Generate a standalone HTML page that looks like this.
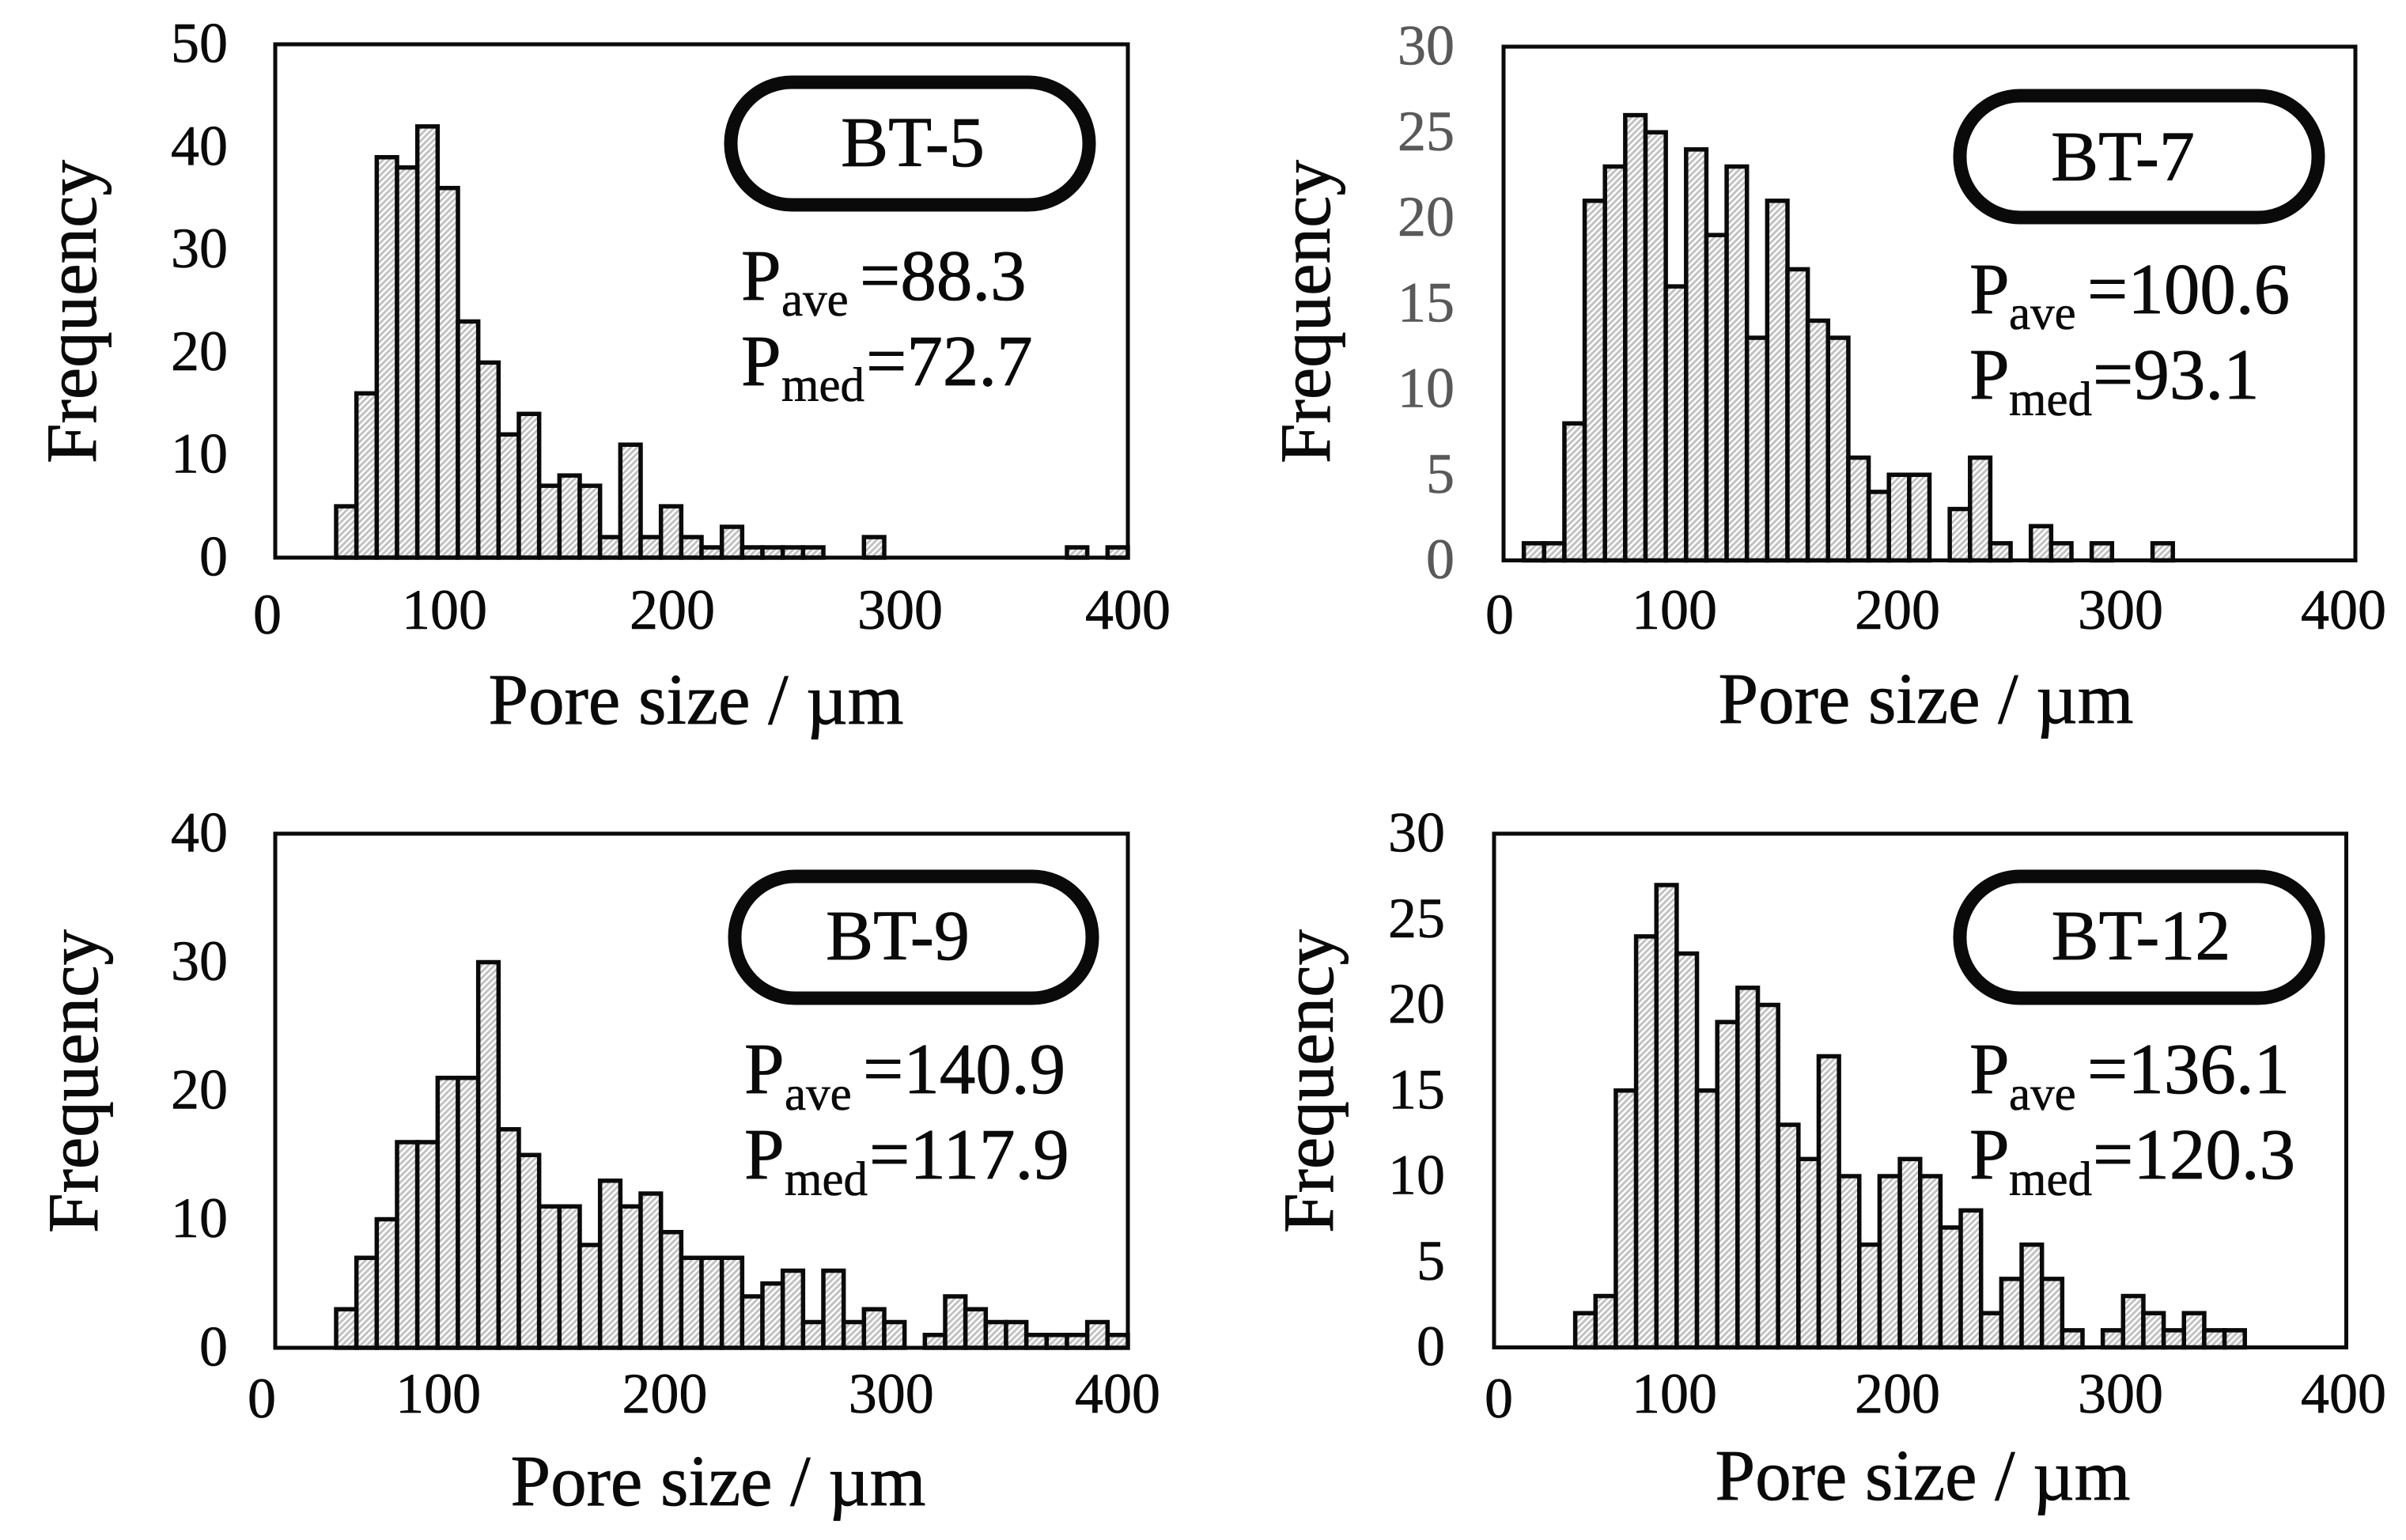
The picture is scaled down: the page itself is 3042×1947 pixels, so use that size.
<!DOCTYPE html>
<html lang="en">
<head>
<meta charset="utf-8">
<title>Pore size distributions</title>
<style>
html,body{margin:0;padding:0;background:#fff;width:3042px;height:1947px;overflow:hidden}
svg{display:block}
text{font-family:"Liberation Serif",serif;fill:#0a0a0a}
.title{font-size:91px;stroke:#0a0a0a;stroke-width:.8px}
.tick{font-size:72px;stroke:currentColor;stroke-width:.6px}
.bt{font-size:90px;text-anchor:middle;stroke:#0a0a0a;stroke-width:.8px}
.stat{font-size:91px;stroke:#0a0a0a;stroke-width:.8px}
.sub{font-size:61px;stroke-width:.6px}
.pill{fill:#fff;stroke:#0a0a0a;stroke-width:17}
.frame{fill:none;stroke:#0a0a0a;stroke-width:5}
.bar{fill:url(#hatch);stroke:#0a0a0a;stroke-width:5.5}
</style>
</head>
<body>
<svg id="chart" xmlns="http://www.w3.org/2000/svg" width="3042" height="1947" viewBox="0 0 3042 1947">
  <defs>
    <pattern id="hatch" width="5.5" height="5.5" patternUnits="userSpaceOnUse" patternTransform="rotate(45)">
      <rect width="5.5" height="5.5" fill="#fff"/>
      <rect width="3" height="5.5" fill="#c2c2c2"/>
    </pattern>
  </defs>
  <rect width="3042" height="1947" fill="#fff"/>

  <g id="panel-bt5">
    <g class="marks"></g>
    <text class="title" text-anchor="middle" x="880" y="915">Pore size / µm</text>
    <text class="title" text-anchor="middle" transform="translate(121,394) rotate(-90)">Frequency</text>
    <rect class="pill" x="924" y="104" width="453" height="155" rx="77" ry="77"/>
    <text class="bt" x="1154" y="210">BT-5</text>
    <text class="stat"><tspan x="937" y="379">P</tspan><tspan class="sub" x="988" y="399">ave</tspan><tspan x="1087" y="379">=88.3</tspan></text>
    <text class="stat"><tspan x="937" y="487">P</tspan><tspan class="sub" x="988" y="507">med</tspan><tspan x="1095" y="487">=72.7</tspan></text>
  </g>

  <g id="panel-bt7">
    <g class="marks"></g>
    <text class="title" text-anchor="middle" x="2435" y="914">Pore size / µm</text>
    <text class="title" text-anchor="middle" transform="translate(1681,394) rotate(-90)">Frequency</text>
    <rect class="pill" x="2478" y="121" width="453" height="154" rx="76" ry="76"/>
    <text class="bt" x="2684" y="228">BT-7</text>
    <text class="stat"><tspan x="2490" y="396">P</tspan><tspan class="sub" x="2540" y="416">ave</tspan><tspan x="2639" y="396">=100.6</tspan></text>
    <text class="stat"><tspan x="2490" y="504">P</tspan><tspan class="sub" x="2540" y="525">med</tspan><tspan x="2646" y="504">=93.1</tspan></text>
  </g>

  <g id="panel-bt9">
    <g class="marks"></g>
    <text class="title" text-anchor="middle" x="908" y="1903">Pore size / µm</text>
    <text class="title" text-anchor="middle" transform="translate(123,1367) rotate(-90)">Frequency</text>
    <rect class="pill" x="929" y="1108" width="452" height="154" rx="76" ry="76"/>
    <text class="bt" x="1135" y="1213">BT-9</text>
    <text class="stat"><tspan x="941" y="1382">P</tspan><tspan class="sub" x="992" y="1403">ave</tspan><tspan x="1091" y="1382">=140.9</tspan></text>
    <text class="stat"><tspan x="941" y="1490">P</tspan><tspan class="sub" x="992" y="1511">med</tspan><tspan x="1099" y="1490">=117.9</tspan></text>
  </g>

  <g id="panel-bt12">
    <g class="marks"></g>
    <text class="title" text-anchor="middle" x="2431" y="1896">Pore size / µm</text>
    <text class="title" text-anchor="middle" transform="translate(1685,1367) rotate(-90)">Frequency</text>
    <rect class="pill" x="2478" y="1108" width="453" height="154" rx="76" ry="76"/>
    <text class="bt" x="2707" y="1213">BT-12</text>
    <text class="stat"><tspan x="2490" y="1382">P</tspan><tspan class="sub" x="2540" y="1403">ave</tspan><tspan x="2639" y="1382">=136.1</tspan></text>
    <text class="stat"><tspan x="2490" y="1490">P</tspan><tspan class="sub" x="2540" y="1511">med</tspan><tspan x="2646" y="1490">=120.3</tspan></text>
  </g>
</svg>
<script>
// Frequency per histogram bin, one array per sample
const freqBT5 = [0,0,0,5,16,39,38,42,36,23,19,12,14,7,8,7,2,11,2,5,2,1,3,1,1,1,1,0,0,2,0,0,0,0,0,0,0,0,0,1,0,1];
const freqBT7 = [0,1,1,8,21,23,26,25,16,24,19,23,13,21,17,14,13,6,4,5,5,0,3,6,1,0,2,1,0,1,0,0,1,0,0,0,0,0,0,0,0,0];
const freqBT9 = [0,0,0,3,7,10,16,16,21,21,30,17,15,11,11,8,13,11,12,9,7,7,7,4,5,6,2,6,2,3,2,0,1,4,3,2,2,1,1,1,2,1];
const freqBT12 = [0,0,0,0,2,3,15,24,27,23,15,19,21,20,13,11,17,10,6,10,11,10,7,8,2,4,6,4,1,0,1,3,2,1,2,1,1,0,0,0,0,0];

// Tick labels
const xTickValues = [0,100,200,300,400];
const yTicksBT5 = [0,10,20,30,40,50];
const yTicksBT7 = [0,5,10,15,20,25,30];
const yTicksBT9 = [0,10,20,30,40];
const yTicksBT12 = [0,5,10,15,20,25,30];

const SVG_NS = 'http://www.w3.org/2000/svg';

function drawPanel(groupId, freq, yTicks, box, labels) {
  const marks = document.querySelector('#' + groupId + ' .marks');
  const yMax = yTicks[yTicks.length - 1];
  const binWidth = (box.right - box.left) / freq.length;
  const xScale = function (i) { return box.left + i * binWidth; };
  const yScale = function (v) { return box.bottom - (v / yMax) * (box.bottom - box.top); };

  freq.forEach(function (v, i) {
    const bar = document.createElementNS(SVG_NS, 'rect');
    bar.setAttribute('class', 'bar');
    bar.setAttribute('x', xScale(i));
    bar.setAttribute('y', yScale(v));
    bar.setAttribute('width', binWidth);
    bar.setAttribute('height', box.bottom - yScale(v));
    
    
    if (v > 0) { marks.appendChild(bar); }
  });

  const frame = document.createElementNS(SVG_NS, 'rect');
  frame.setAttribute('class', 'frame');
  frame.setAttribute('x', box.left);
  frame.setAttribute('y', box.top);
  frame.setAttribute('width', box.right - box.left);
  frame.setAttribute('height', box.bottom - box.top);
  
  
  marks.appendChild(frame);

  yTicks.forEach(function (v) {
    const t = document.createElementNS(SVG_NS, 'text');
    t.setAttribute('class', 'tick');
    t.setAttribute('text-anchor', 'end');
    t.setAttribute('x', labels.yRight);
    t.setAttribute('y', yScale(v) + 22.5);
    t.setAttribute('style', 'fill:' + labels.yColor + ';color:' + labels.yColor);
    
    
    t.textContent = v;
    marks.appendChild(t);
  });

  xTickValues.forEach(function (v) {
    const t = document.createElementNS(SVG_NS, 'text');
    t.setAttribute('class', 'tick');
    t.setAttribute('text-anchor', 'middle');
    const x = v === 0 ? labels.zeroX : labels.x400 - (400 - v) * labels.perUnit;
    t.setAttribute('x', x);
    t.setAttribute('y', v === 0 ? labels.xBase + 6 : labels.xBase);
    
    
    t.textContent = v;
    marks.appendChild(t);
  });
}

drawPanel('panel-bt5', freqBT5, yTicksBT5,
  {left:348, right:1426, top:56, bottom:705},
  {yRight:288, yColor:'#0a0a0a', zeroX:338, x400:1426, perUnit:2.88, xBase:795});
drawPanel('panel-bt7', freqBT7, yTicksBT7,
  {left:1901, right:2978, top:59, bottom:708.5},
  {yRight:1839, yColor:'#595959', zeroX:1896, x400:2963, perUnit:2.82, xBase:795});
drawPanel('panel-bt9', freqBT9, yTicksBT9,
  {left:348, right:1426, top:1054, bottom:1704},
  {yRight:288, yColor:'#0a0a0a', zeroX:331, x400:1413, perUnit:2.863, xBase:1786});
drawPanel('panel-bt12', freqBT12, yTicksBT12,
  {left:1889, right:2966.5, top:1054, bottom:1703.5},
  {yRight:1827, yColor:'#0a0a0a', zeroX:1895, x400:2963, perUnit:2.82, xBase:1786});
</script>
</body>
</html>
